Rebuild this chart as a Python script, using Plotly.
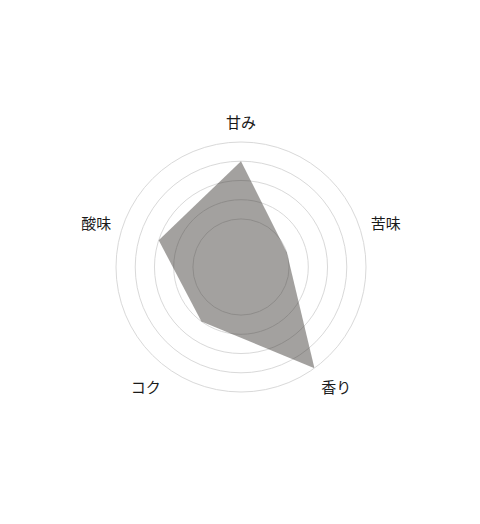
import plotly.graph_objects as go

# taste profile
axes = ["甘み", "苦味", "香り", "コク", "酸味"]
scores = [4, 1, 5, 2, 3]
ring_levels = [1, 2, 3, 4, 5]

theta = axes + axes[:1]
r = scores + scores[:1]

fig = go.Figure()
fig.add_trace(go.Scatterpolar(
    r=r,
    theta=theta,
    mode="lines",
    fill="toself",
    fillcolor="rgba(50,46,42,0.45)",
    line=dict(width=0, color="rgba(0,0,0,0)"),
    hoverinfo="skip",
    showlegend=False,
))

W, H = 480, 524
cx, cy, rad = 233, 259, 125

fig.update_layout(
    width=W,
    height=H,
    margin=dict(l=0, r=0, t=0, b=0),
    paper_bgcolor="white",
    plot_bgcolor="white",
    font=dict(family="Noto Sans CJK JP", size=15, color="#1a1a1a"),
    polar=dict(
        domain=dict(
            x=[(cx - rad) / W, (cx + rad) / W],
            y=[(H - cy - rad) / H, (H - cy + rad) / H],
        ),
        bgcolor="white",
        radialaxis=dict(
            range=[-1.5, 5],
            tickvals=ring_levels,
            showticklabels=False,
            ticks="",
            showline=False,
            gridcolor="#d9d9d9",
            gridwidth=1,
        ),
        angularaxis=dict(
            direction="clockwise",
            rotation=90,
            showgrid=False,
            showline=True,
            linecolor="#d9d9d9",
            linewidth=1,
            ticks="outside",
            ticklen=8,
            tickcolor="rgba(0,0,0,0)",
            tickfont=dict(family="Noto Sans CJK JP", size=15, color="#1a1a1a"),
        ),
    ),
)

fig.write_html("out.html")
